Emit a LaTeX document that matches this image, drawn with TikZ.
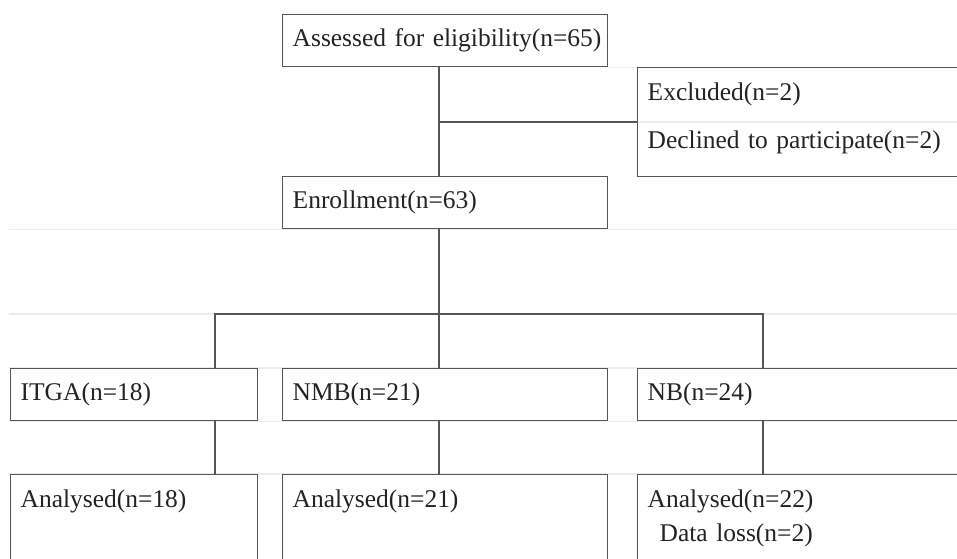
\documentclass[tikz,border=0pt]{standalone}
\usepackage{fontspec}
\setmainfont{Liberation Serif}
\usetikzlibrary{backgrounds}
\definecolor{linecol}{RGB}{85,85,85}
\definecolor{faintcol}{RGB}{236,236,236}
\definecolor{textcol}{RGB}{35,35,35}
\newcommand{\deep}[1]{\rule[-#1]{0pt}{#1}}

\begin{document}
\begin{tikzpicture}[x=0.02cm,y=-0.02cm,
  cell/.style={draw=linecol,fill=white,line width=0.8pt,anchor=north west,
               align=left,inner xsep=0.2cm,inner ysep=0pt,minimum height=1.04cm,
               text=textcol,font=\fontsize{14.5}{19.4}\selectfont},
  result/.style={cell,inner ysep=0.3cm,minimum height=0pt},
  link/.style={draw=linecol,line width=0.8pt},
  grid/.style={draw=faintcol,line width=0.8pt}
]
\useasboundingbox (0,0) rectangle (957,558);
\clip (0,0) rectangle (957,558);

% Screening
\node[cell,text width=6.1cm] (assess) at (282,14) {\mbox{Assessed for eligibility(n=65)}};
\node[cell,text width=6.4cm,minimum height=2.18cm] (excl) at (637,67)
  {Excluded(n=2)\\[0.28cm]Declined to participate(n=2)\deep{0.25cm}};
\node[cell,text width=6.1cm] (enrol) at (282,176) {Enrollment(n=63)};

% Groups
\node[cell,text width=4.54cm] (itga) at (10,368) {ITGA(n=18)};
\node[cell,text width=6.1cm] (nmb) at (282,368) {NMB(n=21)};
\node[cell,text width=6.4cm] (nb) at (637,368) {NB(n=24)};

% Analysis
\node[result,text width=4.54cm] (res1) at (10,474) {Analysed(n=18)\deep{1.2cm}};
\node[result,text width=6.1cm] (res2) at (282,474) {Analysed(n=21)\deep{1.2cm}};
\node[result,text width=6.4cm] (res3) at (637,474)
  {Analysed(n=22)\\\hspace*{0.24cm}Data loss(n=2)\deep{1cm}};

% Connectors
\coordinate (trunk) at (439,0);
\coordinate (split) at (439,314);
\coordinate (leftx) at (215,0);
\coordinate (rightx) at (763,0);
\coordinate (lm) at (9,0);
\coordinate (rm) at (957,0);

\draw[link] (assess.south -| trunk) -- (enrol.north -| trunk);
\draw[link] (trunk |- excl.west) -- (excl.west);
\draw[link] (enrol.south -| trunk) -- (nmb.north -| trunk);
\draw[link] (itga.north -| leftx) |- (split) -| (nb.north -| rightx);
\draw[link] (itga.south -| leftx) -- (res1.north -| leftx);
\draw[link] (nmb.south -| trunk) -- (res2.north -| trunk);
\draw[link] (nb.south -| rightx) -- (res3.north -| rightx);

\draw[grid,shorten <=0.5pt] (excl.west) -- (excl.east);

% Faint rules
\begin{pgfonlayer}{background}
  \draw[grid] (assess.south east) -- (assess.south east -| excl.west);
  \draw[grid] (enrol.south -| lm) -- (enrol.south -| rm);
  \draw[grid] (split -| lm) -- (split -| rm);
  \draw[grid] (nmb.north -| lm) -- (nmb.north -| rm);
  \draw[grid] (nmb.south -| lm) -- (nmb.south -| rm);
  \draw[grid] (res2.north -| lm) -- (res2.north -| rm);
\end{pgfonlayer}
\end{tikzpicture}
\end{document}
